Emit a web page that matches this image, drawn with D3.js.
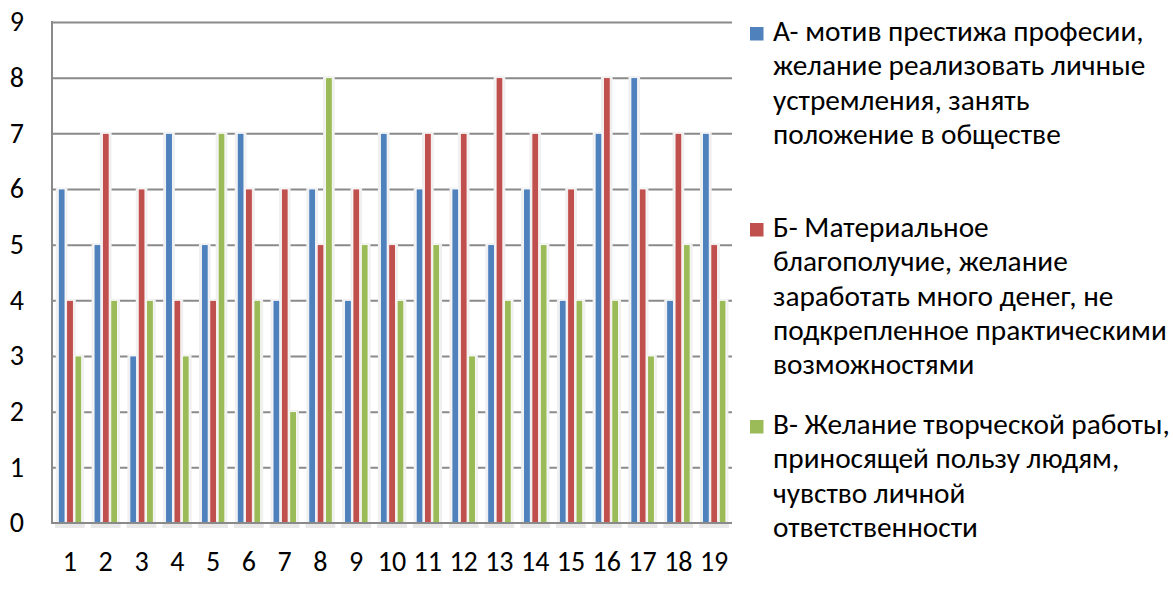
<!DOCTYPE html>
<html>
<head>
<meta charset="utf-8">
<script src="https://cdn.jsdelivr.net/npm/d3@7"></script>
<style>
  html, body { margin: 0; padding: 0; background: #ffffff; }
  svg { display: block; }
</style>
</head>
<body>
<svg id="chart" width="1173" height="589"></svg>
<script>
// ---- data ----
const categories = ["1","2","3","4","5","6","7","8","9","10","11","12","13","14","15","16","17","18","19"];
const seriesKeys = ["A", "B", "V"];
const valuesA = [6,5,3,7,5,7,4,6,4,7,6,6,5,6,4,7,8,4,7];
const valuesB = [4,7,6,4,4,6,6,5,6,5,7,7,8,7,6,8,6,7,5];
const valuesV = [3,4,4,3,7,4,2,8,5,4,5,3,4,5,4,4,3,5,4];
const yTicks = [0,1,2,3,4,5,6,7,8,9];
const legendA = ["А- мотив престижа професии,", "желание реализовать личные", "устремления, занять", "положение в обществе"];
const legendB = ["Б- Материальное", "благополучие, желание", "заработать много денег, не", "подкрепленное практическими", "возможностями"];
const legendV = ["В- Желание творческой работы,", "приносящей пользу людям,", "чувство личной", "ответственности"];

const seriesValues = { A: valuesA, B: valuesB, V: valuesV };
const colors = { A: "#4f81bd", B: "#c0504d", V: "#9bbb59" };

// ---- layout ----
const svg = d3.select("#chart");
const plotLeft = 52, plotRight = 732, plotTop = 22, plotBottom = 523;
const fontAxis = "Carlito, Lato, 'Open Sans', sans-serif";

const x0 = d3.scaleBand().domain(categories).range([plotLeft, plotRight]).padding(0);
const x1 = d3.scaleBand().domain(seriesKeys).range([6.3, 29.7]).paddingInner(0.2);
const y = d3.scaleLinear().domain([0, 9]).range([plotBottom, plotTop]);

// gridlines
const grid = svg.append("g").attr("transform", `translate(${plotLeft},0)`)
  .call(d3.axisLeft(y).tickValues(yTicks.slice(1)).tickSize(-(plotRight - plotLeft)).tickFormat(""));
grid.select(".domain").remove();
grid.selectAll("line").attr("stroke", "#8a8a8a").attr("stroke-width", 2);

// floor shadows under groups
svg.append("g").selectAll("rect.floor")
  .data(categories)
  .join("rect")
  .attr("x", d => x0(d) + 3)
  .attr("y", plotBottom + 1)
  .attr("width", x0.bandwidth() - 6)
  .attr("height", 4)
  .attr("fill", "#e8e8e8");

// bars
const groups = svg.append("g").selectAll("g")
  .data(categories)
  .join("g")
  .attr("transform", d => `translate(${x0(d)},0)`);

const barData = (d, i) => seriesKeys.map(k => ({ key: k, value: seriesValues[k][i] }));

// halo
groups.selectAll("rect.halo")
  .data((d, i) => barData(d, i))
  .join("rect")
  .attr("class", "halo")
  .attr("x", d => x1(d.key) - 2.5)
  .attr("y", d => y(d.value) - 1.5)
  .attr("width", x1.bandwidth() + 5)
  .attr("height", d => plotBottom - y(d.value) + 1.5)
  .attr("fill", "#f0f0f0");

groups.selectAll("rect.bar")
  .data((d, i) => barData(d, i))
  .join("rect")
  .attr("class", "bar")
  .attr("x", d => x1(d.key))
  .attr("y", d => y(d.value))
  .attr("width", x1.bandwidth())
  .attr("height", d => plotBottom - y(d.value))
  .attr("fill", d => colors[d.key])
  .attr("stroke", "#ffffff")
  .attr("stroke-width", 0.8);

// axes lines
svg.append("line").attr("x1", plotLeft).attr("x2", plotLeft).attr("y1", plotTop - 1).attr("y2", plotBottom + 1)
  .attr("stroke", "#8a8a8a").attr("stroke-width", 2);
svg.append("line").attr("x1", plotLeft - 1).attr("x2", plotRight).attr("y1", plotBottom).attr("y2", plotBottom)
  .attr("stroke", "#8a8a8a").attr("stroke-width", 2);

// y axis labels
const yAxis = svg.append("g").attr("transform", `translate(${plotLeft},0)`)
  .call(d3.axisLeft(y).tickValues(yTicks).tickSize(0).tickPadding(28).tickFormat(d3.format("d")));
yAxis.select(".domain").remove();
yAxis.selectAll("text").style("font-size", "28px").style("font-family", fontAxis).attr("fill", "#000");

// x axis labels
const xAxis = svg.append("g").attr("transform", `translate(0,${plotBottom})`)
  .call(d3.axisBottom(x0).tickSize(0).tickPadding(28));
xAxis.select(".domain").remove();
xAxis.selectAll("text").style("font-size", "28px").style("font-family", fontAxis).attr("fill", "#000");

// legend
const legendEntries = [
  { key: "A", lines: legendA, base: 41 },
  { key: "B", lines: legendB, base: 237 },
  { key: "V", lines: legendV, base: 434 }
];
const lineH = 34.3;
const leg = svg.append("g");
legendEntries.forEach(e => {
  leg.append("rect").attr("x", 750).attr("y", e.base - 14).attr("width", 13.5).attr("height", 13.5)
    .attr("fill", colors[e.key]);
  const t = leg.append("text").style("font-family", fontAxis).style("font-size", "29.3px").attr("fill", "#000");
  e.lines.forEach((ln, i) => {
    t.append("tspan").attr("x", 773).attr("y", e.base + i * lineH).text(ln);
  });
});
</script>
</body>
</html>
